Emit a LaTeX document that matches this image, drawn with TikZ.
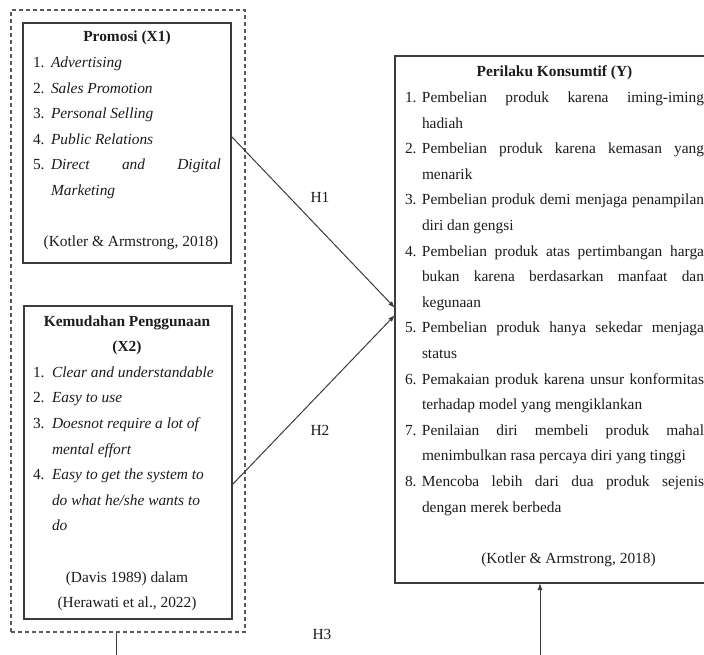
\documentclass[tikz,border=0pt]{standalone}
\usepackage{fontspec}
\setmainfont{Liberation Serif}
\usetikzlibrary{arrows.meta,calc}
\definecolor{linec}{HTML}{3C3C3C}
\definecolor{dashc}{HTML}{5A5A5A}
\definecolor{txtc}{HTML}{1C1C1C}
\newcommand{\itm}[2]{\par\noindent\hangindent=#1\hangafter=1\makebox[#1][l]{#2}\ignorespaces}
\newcommand{\bodyfont}{\fontsize{15.4}{25.6}\selectfont\parskip=0pt\hyphenpenalty=10000\exhyphenpenalty=10000\tolerance=10000\hbadness=10000}
\tikzset{
  boxst/.style={draw=linec, line width=1.3pt, rectangle, inner sep=0pt, outer sep=0pt, anchor=north west},
  groupst/.style={draw=dashc, line width=1.3pt, dash pattern=on 4pt off 3pt, rectangle, inner sep=0pt, outer sep=0pt, anchor=north west},
  textst/.style={anchor=base west, inner sep=0pt, outer sep=0pt, text=txtc},
  conn/.style={draw=linec, line width=1pt},
  arr/.style={conn, -{Latex[length=7pt,width=5pt]}},
  lbl/.style={text=txtc, font=\fontsize{15.4}{18}\selectfont, inner sep=0pt}
}
\begin{document}
\begin{tikzpicture}[x=1pt,y=-1pt]
\useasboundingbox[fill=white] (0,0) rectangle (704,655);
\clip (0,0) rectangle (704,655);
% boxes
\node[groupst, minimum width=234pt, minimum height=622pt] (grp) at (11,10) {};
\node[boxst, minimum width=208pt, minimum height=240pt] (x1) at (23,23) {};
\node[boxst, minimum width=208pt, minimum height=313pt] (x2) at (24,306) {};
\node[boxst, minimum width=313pt, minimum height=527pt] (y) at (395,56) {};
% X1 text
\node[textst] (t1) at (33,42) {\parbox[t]{188pt}{\bodyfont
{\centering\bfseries Promosi (X1)\par}
\itm{18pt}{1.}\textit{Advertising}
\itm{18pt}{2.}\textit{Sales Promotion}
\itm{18pt}{3.}\textit{Personal Selling}
\itm{18pt}{4.}\textit{Public Relations}
\itm{18pt}{5.}\textit{Direct and Digital\linebreak Marketing}
\par\vspace{25.6pt}
{\centering\hspace*{8pt}(Kotler \& Armstrong, 2018)\par}}};
% X2 text
\node[textst] (t2) at (33,326) {\parbox[t]{188pt}{\bodyfont
{\centering\bfseries Kemudahan Penggunaan\\(X2)\par}
{\raggedright
\itm{19pt}{1.}\textit{Clear and understandable}
\itm{19pt}{2.}\textit{Easy to use}
\itm{19pt}{3.}\textit{Doesnot require a lot of\newline mental effort}
\itm{19pt}{4.}\textit{Easy to get the system to\newline do what he/she wants to\newline do}\par}
\vspace{25.6pt}
{\centering (Davis 1989) dalam\\(Herawati et al., 2022)\par}}};
% Y text
\node[textst] (t3) at (405,77) {\parbox[t]{299pt}{\bodyfont
{\centering\bfseries Perilaku Konsumtif (Y)\par}
\itm{17pt}{1.}Pembelian produk karena iming-iming\linebreak hadiah
\itm{17pt}{2.}Pembelian produk karena kemasan yang\linebreak menarik
\itm{17pt}{3.}Pembelian produk demi menjaga penampilan\linebreak diri dan gengsi
\itm{17pt}{4.}Pembelian produk atas pertimbangan harga\linebreak bukan karena berdasarkan manfaat dan\linebreak kegunaan
\itm{17pt}{5.}Pembelian produk hanya sekedar menjaga\linebreak status
\itm{17pt}{6.}Pemakaian produk karena unsur konformitas\linebreak terhadap model yang mengiklankan
\itm{17pt}{7.}Penilaian diri membeli produk mahal\linebreak menimbulkan rasa percaya diri yang tinggi
\itm{17pt}{8.}Mencoba lebih dari dua produk sejenis\linebreak dengan merek berbeda
\par\vspace{25.6pt}
{\centering\hspace*{28pt}(Kotler \& Armstrong, 2018)\par}}};
% connectors
\draw[arr] ([yshift=7pt]x1.east) -- ([yshift=11.5pt]y.west);
\draw[arr] ([yshift=-22.5pt]x2.east) -- ([yshift=4.5pt]y.west);
\coordinate (c1) at (116,655.2);
\coordinate (c2) at (540,655.2);
\draw[conn] ([xshift=-12pt]grp.south) -- (c1) -- (c2);
\draw[arr] (c2) -- (c2 |- y.south);
% labels
\node[lbl] (h1) at (320,197) {H1};
\node[lbl] (h2) at (320,430) {H2};
\node[lbl] (h3) at (322,634) {H3};
\end{tikzpicture}
\end{document}
